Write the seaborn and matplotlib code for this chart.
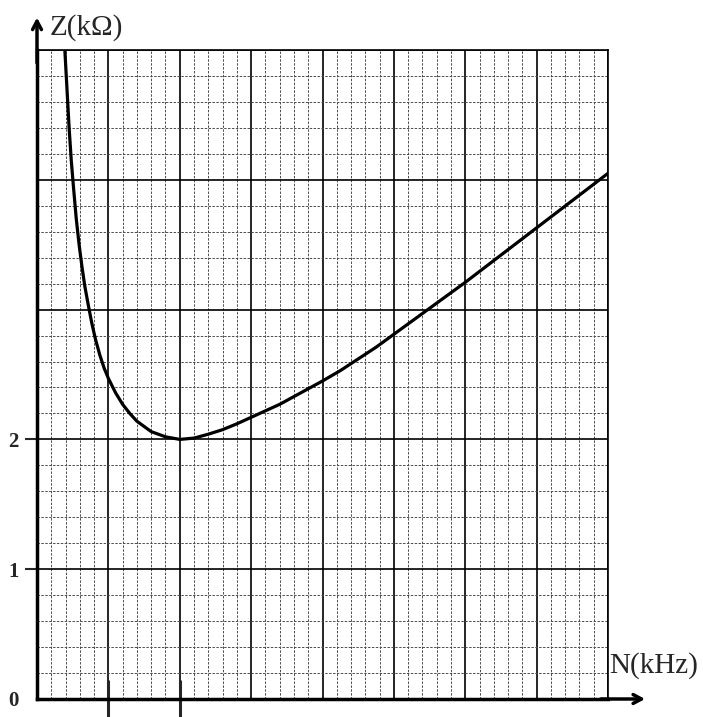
import numpy as np
import pandas as pd
import matplotlib
matplotlib.use('Agg')
import matplotlib.pyplot as plt
import seaborn as sns

# values (N in kHz, Z in kOhm)
freq_khz = [0.39, 0.42, 0.45, 0.48, 0.51, 0.55, 0.59, 0.63, 0.67, 0.72, 0.77,
            0.82, 0.88, 0.94, 1.0, 1.1, 1.2, 1.3, 1.4, 1.5, 1.6, 1.7, 1.8, 1.9,
            2.0, 2.2, 2.4, 2.6, 2.8, 3.0, 3.2, 3.4, 3.6, 3.8, 4.0, 4.25, 4.5,
            4.75, 5.0, 5.25, 5.5, 5.75, 6.0, 6.5, 7.0, 7.5, 8.0]
z_kohm = [5.0, 4.7, 4.4, 4.15, 3.95, 3.7, 3.5, 3.33, 3.18, 3.03, 2.89,
          2.77, 2.65, 2.55, 2.47, 2.36, 2.27, 2.20, 2.14, 2.10, 2.06, 2.04, 2.02, 2.01,
          2.0, 2.01, 2.04, 2.075, 2.12, 2.17, 2.22, 2.27, 2.33, 2.39, 2.45, 2.53, 2.62,
          2.71, 2.81, 2.91, 3.01, 3.11, 3.21, 3.42, 3.63, 3.84, 4.05]
y_tick_labels = ['0', '1', '2', '', '', '']

sns.set_style('white')
plt.rcParams['font.family'] = ['Liberation Serif', 'DejaVu Serif']

df = pd.DataFrame({'N': freq_khz, 'Z': z_kohm})

fig = plt.figure(figsize=(7.03, 7.17), dpi=100)
ax = fig.add_axes([37/703, 18/717, 571/703, 649/717])

sns.lineplot(data=df, x='N', y='Z', ax=ax, color='black', lw=2.3, sort=False,
             solid_joinstyle='round', solid_capstyle='round', zorder=5)

ax.set_xlim(0, 8)
ax.set_ylim(0, 5)
ax.set_xticks(np.arange(0, 9, 1))
ax.set_xticks(np.arange(0, 8.01, 0.2), minor=True)
ax.set_yticks(np.arange(0, 6, 1))
ax.set_yticks(np.arange(0, 5.01, 0.2), minor=True)
ax.set_axisbelow(True)
ax.grid(which='major', color='black', lw=1.2)
ax.grid(which='minor', color='0.3', lw=0.7, ls=(0, (2.5, 1.5)))

ax.set_xticklabels([''] * 9)
ax.set_yticklabels(y_tick_labels, fontsize=15, fontweight='bold')
ax.set_xlabel('')
ax.set_ylabel('')
ax.tick_params(left=True, bottom=True)
ax.tick_params(which='minor', length=0)
ax.tick_params(axis='y', which='major', length=9, width=1.5, direction='out', pad=4)
ax.tick_params(axis='x', which='major', length=28, width=2.2, direction='inout')
for i, t in enumerate(ax.yaxis.get_major_ticks()):
    if i not in (1, 2):
        t.tick1line.set_visible(False)
for i, t in enumerate(ax.xaxis.get_major_ticks()):
    if i not in (1, 2):
        t.tick1line.set_visible(False)

for s in ['left', 'bottom']:
    ax.spines[s].set_linewidth(2.5)
    ax.spines[s].set_color('black')
for s in ['top', 'right']:
    ax.spines[s].set_linewidth(1.2)
    ax.spines[s].set_color('black')

arrow = dict(arrowstyle='->,head_length=0.6,head_width=0.32', lw=2.5,
             color='black', shrinkA=0, shrinkB=0)
ax.annotate('', xy=(0, 5.25), xytext=(0, 4.9), arrowprops=arrow, annotation_clip=False)
ax.annotate('', xy=(8.52, 0), xytext=(7.9, 0), arrowprops=arrow, annotation_clip=False)

ax.text(0.17, 5.17, 'Z(kΩ)', fontsize=21, va='center', ha='left')
ax.text(8.02, 0.26, 'N(kHz)', fontsize=21, va='center', ha='left')

fig.savefig('out.png', dpi=100, facecolor='white')
